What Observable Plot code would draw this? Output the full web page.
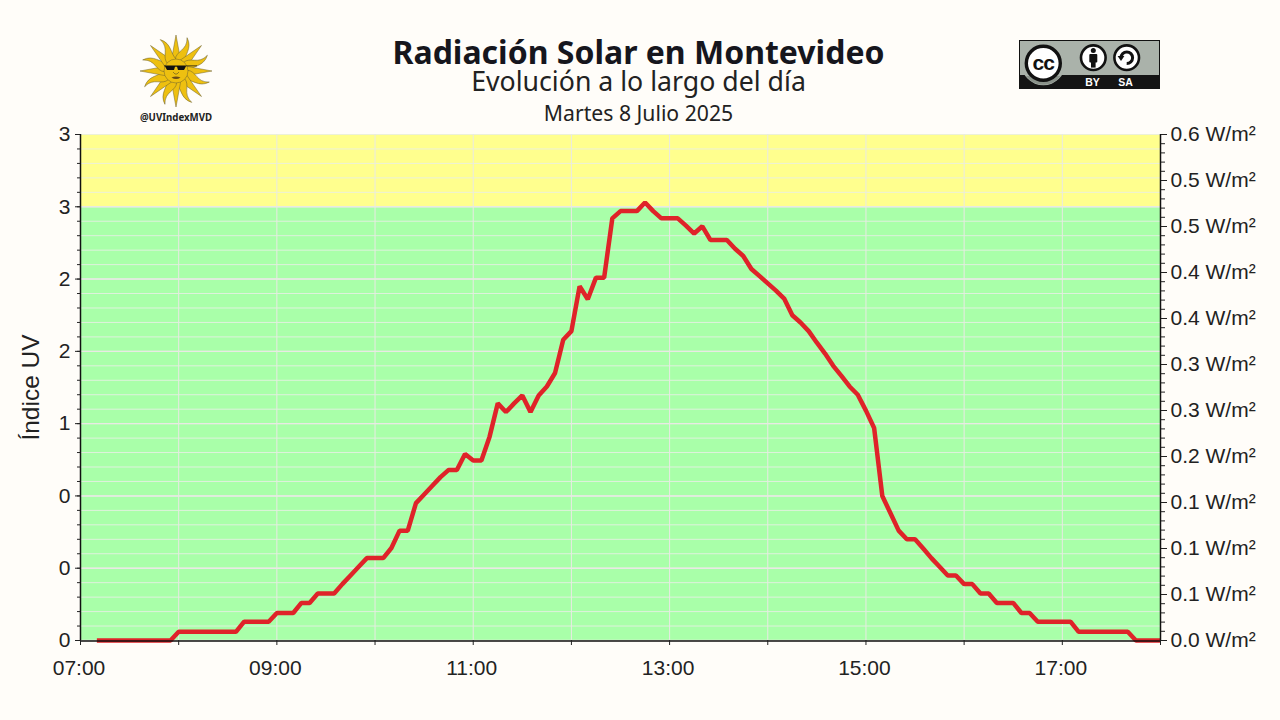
<!DOCTYPE html>
<html lang="es">
<head>
<meta charset="utf-8">
<title>Radiación Solar en Montevideo</title>
<script src="https://cdn.jsdelivr.net/npm/d3@7"></script>
<script src="https://cdn.jsdelivr.net/npm/@observablehq/plot@0.6"></script>
<style>
  html,body{margin:0;padding:0;background:#fffdf9;width:1280px;height:720px;overflow:hidden}
  #page{position:relative;width:1280px;height:720px}
  .hd{position:absolute;left:0;width:1277px;text-align:center;font-family:"Noto Sans",sans-serif;color:#16161d;white-space:nowrap;line-height:1}
  #title{top:36px;font-size:32px;font-weight:700}
  #subtitle{top:68px;font-size:26.7px;font-weight:400;color:#222}
  #date{top:102px;font-size:21.2px;color:#222}
  #chart{position:absolute;left:0;top:120px}
  #sun{position:absolute;left:130px;top:30px}
  #cc{position:absolute;left:1019px;top:40px}
</style>
</head>
<body>
<div id="page">
  <div class="hd" id="title">Radiación Solar en Montevideo</div>
  <div class="hd" id="subtitle">Evolución a lo largo del día</div>
  <div class="hd" id="date">Martes 8 Julio 2025</div>
  <div id="sun"></div>
  <div id="cc">
    <svg width="141" height="49" viewBox="0 0 141 49" xmlns="http://www.w3.org/2000/svg">
      <rect x="0.5" y="0.5" width="140" height="48" fill="#aab2aa" stroke="#111"/>
      <rect x="0" y="35" width="141" height="14" fill="#141414"/>
      <circle cx="24.3" cy="23.3" r="22" fill="#aab2aa"/>
      <path d="M7 36 A 21.5 21.5 0 0 0 41.5 36 Z" fill="#8a928a"/>
      <circle cx="24.3" cy="23.3" r="17" fill="#fff" stroke="#111" stroke-width="3.4"/>
      <text x="24.3" y="30" text-anchor="middle" font-family="Liberation Sans" font-weight="700" font-size="21" letter-spacing="-1" fill="#111">cc</text>
      <circle cx="74.3" cy="17.7" r="12.3" fill="#fff" stroke="#111" stroke-width="2.6"/>
      <circle cx="74.3" cy="10.6" r="2.5" fill="#111"/>
      <rect x="70.3" y="14" width="8" height="8.5" rx="1" fill="#111"/>
      <rect x="72" y="20" width="4.6" height="7.6" fill="#111"/>
      <circle cx="107.7" cy="17.7" r="12.3" fill="#fff" stroke="#111" stroke-width="2.6"/>
      <path d="M102 17.7 A5.8 5.8 0 1 1 107.7 23.5" fill="none" stroke="#111" stroke-width="3"/>
      <path d="M98.6 16 L105.4 16 L102 21 Z" fill="#111"/>
      <text x="73.5" y="46" text-anchor="middle" font-family="Liberation Sans" font-weight="700" font-size="10.5" fill="#fff">BY</text>
      <text x="106.5" y="46" text-anchor="middle" font-family="Liberation Sans" font-weight="700" font-size="10.5" fill="#fff">SA</text>
    </svg>
  </div>
  <div id="chart"></div>
</div>
<script>
// ---- data ----
const times = [
  "07:10","07:15","07:20","07:25","07:30","07:35","07:40","07:45","07:50","07:55",
  "08:00","08:05","08:10","08:15","08:20","08:25","08:30","08:35","08:40","08:45","08:50","08:55",
  "09:00","09:05","09:10","09:15","09:20","09:25","09:30","09:35","09:40","09:45","09:50","09:55",
  "10:00","10:05","10:10","10:15","10:20","10:25","10:30","10:35","10:40","10:45","10:50","10:55",
  "11:00","11:05","11:10","11:15","11:20","11:25","11:30","11:35","11:40","11:45","11:50","11:55",
  "12:00","12:05","12:10","12:15","12:20","12:25","12:30","12:35","12:40","12:45","12:50","12:55",
  "13:00","13:05","13:10","13:15","13:20","13:25","13:30","13:35","13:40","13:45","13:50","13:55",
  "14:00","14:05","14:10","14:15","14:20","14:25","14:30","14:35","14:40","14:45","14:50","14:55",
  "15:00","15:05","15:10","15:15","15:20","15:25","15:30","15:35","15:40","15:45","15:50","15:55",
  "16:00","16:05","16:10","16:15","16:20","16:25","16:30","16:35","16:40","16:45","16:50","16:55",
  "17:00","17:05","17:10","17:15","17:20","17:25","17:30","17:35","17:40","17:45","17:50","17:55","18:00"
];
const uvIndex = [
  0,0,0,0,0,0,0,0,0,0,
  0.06,0.06,0.06,0.06,0.06,0.06,0.06,0.06,0.13,0.13,0.13,0.13,
  0.19,0.19,0.19,0.26,0.26,0.325,0.325,0.325,0.39,0.45,0.51,0.57,
  0.57,0.57,0.64,0.76,0.76,0.95,1.01,1.07,1.13,1.18,1.18,1.29,
  1.245,1.245,1.41,1.64,1.58,1.64,1.695,1.58,1.695,1.757,1.85,2.08,
  2.14,2.45,2.36,2.51,2.51,2.92,2.97,2.97,2.97,3.03,2.97,2.92,
  2.92,2.92,2.87,2.815,2.865,2.77,2.77,2.77,2.71,2.66,2.57,2.52,
  2.47,2.42,2.365,2.25,2.2,2.14,2.06,1.985,1.90,1.83,1.757,1.70,
  1.59,1.47,1.0,0.88,0.76,0.70,0.70,0.636,0.57,0.51,0.45,0.45,
  0.39,0.39,0.325,0.325,0.26,0.26,0.26,0.19,0.19,0.13,0.13,0.13,
  0.13,0.13,0.06,0.06,0.06,0.06,0.06,0.06,0.06,0,0,0,0
];
const hourTicks = ["07:00","08:00","09:00","10:00","11:00","12:00","13:00","14:00","15:00","16:00","17:00","18:00"];
const hourLabels = ["07:00","","09:00","","11:00","","13:00","","15:00","","17:00",""];
const leftTicks = [0,0.5,1,1.5,2,2.5,3,3.5];
const leftLabels = ["0","0","0","1","2","2","3","3"];
const rightLabels = ["0.0 W/m²","0.1 W/m²","0.1 W/m²","0.1 W/m²","0.2 W/m²","0.3 W/m²","0.3 W/m²","0.4 W/m²","0.4 W/m²","0.5 W/m²","0.5 W/m²","0.6 W/m²"];
const bands = [
  {from:0, to:3, color:"#a9ffa9"},
  {from:3, to:3.5, color:"#ffff8e"}
];
const yMax = 3.5;

// ---- derived ----
const toDate = t => new Date(`2025-07-08T${t}:00Z`);
const series = times.map((t,i)=>({time:toDate(t), uv:uvIndex[i]}));
const xTicks = hourTicks.map(toDate);
const xLabelOf = new Map(xTicks.map((d,i)=>[+d,hourLabels[i]]));
const leftLabelOf = new Map(leftTicks.map((d,i)=>[d,leftLabels[i]]));
const leftMinor = d3.range(36).map(i=>i/10);
const rightTicks = rightLabels.map((_,i)=>i*yMax/(rightLabels.length-1));
const rightLabelOf = new Map(rightTicks.map((d,i)=>[d,rightLabels[i]]));
const rightMinor = d3.range(56).map(i=>i*yMax/55);
const xStart = xTicks[0], xEnd = xTicks[xTicks.length-1];
const ink = "#222";

const chart = Plot.plot({
  width:1280, height:600,
  marginTop:14, marginBottom:80, marginLeft:80, marginRight:120,
  style:{background:"transparent", fontFamily:"'Liberation Sans',Arial,sans-serif", color:ink, overflow:"visible"},
  x:{type:"utc", domain:[xStart,xEnd], axis:null},
  y:{domain:[0,yMax], axis:null},
  marks:[
    Plot.rect(bands,{x1:()=>xStart, x2:()=>xEnd, y1:"from", y2:"to", fill:"color"}),
    Plot.ruleY(leftMinor,{stroke:"#e9efe6", strokeWidth:1, strokeOpacity:0.85}),
    Plot.ruleY(leftTicks.slice(0,-1),{stroke:"#e9e9e4", strokeWidth:1.4}),
    Plot.ruleX(xTicks,{stroke:"#e9e9e4", strokeWidth:1}),
    Plot.line(series,{x:"time", y:"uv", stroke:"#df2329", strokeWidth:4.5, strokeLinejoin:"miter", strokeLinecap:"butt"}),
    Plot.ruleX([xStart],{stroke:"#111", strokeWidth:1.5}),
    Plot.ruleX([xEnd],{stroke:"#111", strokeWidth:1.5}),
    Plot.ruleY([0],{stroke:"#111", strokeWidth:1.5, dy:0.5}),
    Plot.axisY(leftMinor,{anchor:"left", tickSize:3, tickFormat:()=>"", label:null}),
    Plot.axisY(leftTicks,{anchor:"left", tickSize:5, tickPadding:5, fontSize:21, tickFormat:d=>leftLabelOf.get(d), label:null}),
    Plot.axisY(rightMinor,{anchor:"right", tickSize:4, tickFormat:()=>"", label:null}),
    Plot.axisY(rightTicks,{anchor:"right", tickSize:6, tickPadding:4, fontSize:21, tickFormat:d=>rightLabelOf.get(d), label:null}),
    Plot.axisX(xTicks,{anchor:"bottom", tickSize:5, tickFormat:()=>"", label:null}),
    Plot.axisX(xTicks,{anchor:"bottom", tickSize:0, tickPadding:20, dx:-1.5, fontSize:21, tickFormat:d=>xLabelOf.get(+d), label:null}),
    Plot.text(["Índice UV"],{frameAnchor:"left", textAnchor:"middle", dx:-49, rotate:-90, fontSize:24.5, fill:ink})
  ]
});
document.getElementById("chart").append(chart);

// ---- sun logo (decorative) ----
(function(){
  const ns = "http://www.w3.org/2000/svg";
  const straight = "M-4.8,-10 L0,-36 L4.8,-10 Z";
  const wavy = "M-5,-10 C-8,-19 3,-23 -2.5,-35 C7,-27 1,-18 5,-10 Z";
  let rays = "";
  for (let i=0;i<16;i++){
    rays += `<path transform="rotate(${i*22.5})" d="${i%2?wavy:straight}" fill="#eec010" stroke="#6f6330" stroke-width="0.5"/>`;
  }
  document.getElementById("sun").innerHTML =
   `<svg xmlns="${ns}" width="92" height="98" viewBox="0 0 92 98">
      <g transform="translate(46,41)">
        ${rays}
        <circle r="12" fill="#eec010" stroke="#6f6330" stroke-width="0.5"/>
        <path d="M-12,-5.5 H21 V-4.7 H10 L8,-1 H2 L1,-4.2 H-1 L-2,-1 H-9 L-11,-4.7 H-12 Z" fill="#111"/>
        <path d="M-3,1 L-1,3 L1,3 L3,1" fill="none" stroke="#6a5a20" stroke-width="0.7"/>
        <path d="M-4.5,6.5 Q0,4.5 4.5,6.5 Q0,9.5 -4.5,6.5 Z" fill="#6a4a18"/>
      </g>
      <text x="46" y="91" text-anchor="middle" font-family="Noto Sans" font-weight="700" font-size="9.7" fill="#222">@UVIndexMVD</text>
    </svg>`;
})();
</script>
</body>
</html>
